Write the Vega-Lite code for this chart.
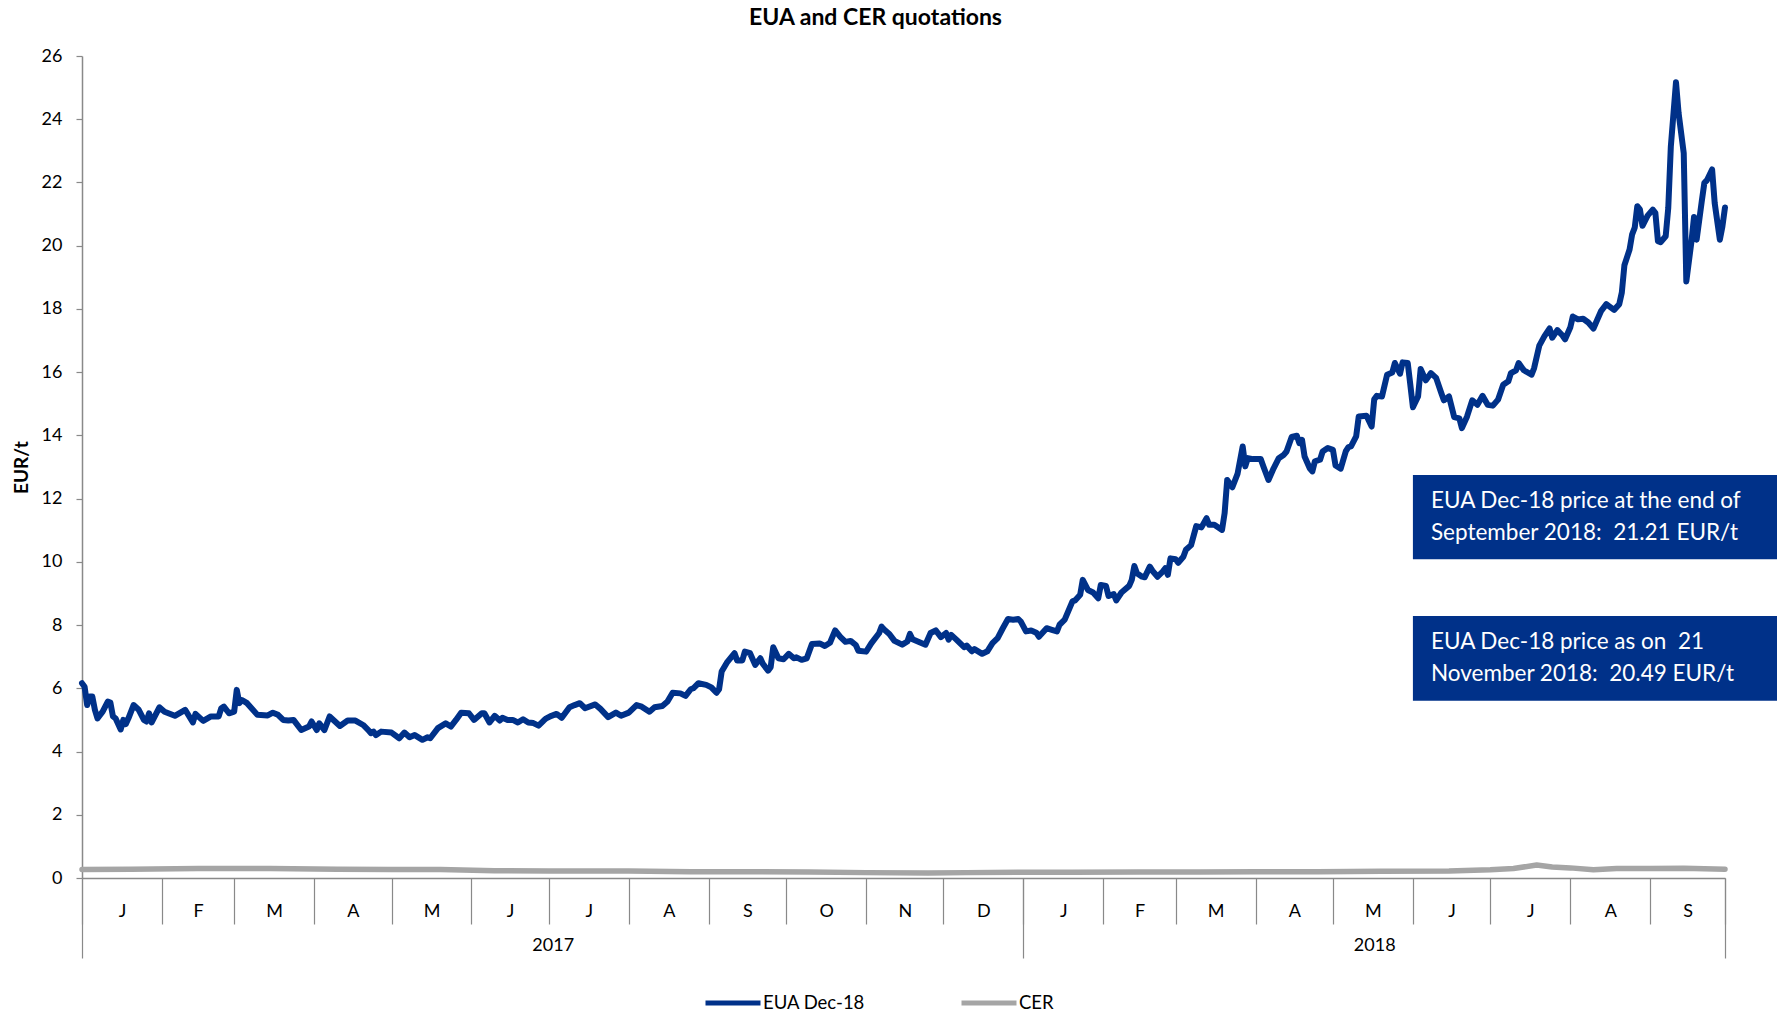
{
  "$schema": "https://vega.github.io/schema/vega-lite/v6.json",
  "autosize": {"type": "none"},
  "padding": {"left": 82, "top": 56, "right": 52, "bottom": 135},
  "width": 1643,
  "height": 822,
  "background": "white",
  "title": {"text": "EUA and CER quotations", "anchor": "middle", "frame": "group", "dx": -28, "offset": 17, "font": "Lato", "fontSize": 23, "fontWeight": "bold", "color": "#000000"},
  "config": {
    "view": {"stroke": null},
    "axis": {"labelFont": "Lato", "labelFontSize": 18, "labelColor": "#000000", "grid": false, "domainColor": "#898989", "tickColor": "#898989", "titleFont": "Lato", "titleColor": "#000000"},
    "legend": {"labelFont": "Lato", "labelFontSize": 18.5, "labelColor": "#000000"}
  },
  "datasets": {
    "eua": [
      {"date":"2017/01/01","v":6.16},{"date":"2017/01/02","v":6.05},{"date":"2017/01/03","v":5.47},{"date":"2017/01/04","v":5.74},{"date":"2017/01/05","v":5.74},{"date":"2017/01/06","v":5.32},{"date":"2017/01/07","v":5.05},{"date":"2017/01/09","v":5.26},{"date":"2017/01/11","v":5.58},{"date":"2017/01/12","v":5.55},{"date":"2017/01/13","v":5.11},{"date":"2017/01/14","v":5.05},{"date":"2017/01/16","v":4.70},{"date":"2017/01/17","v":5.00},{"date":"2017/01/18","v":4.87},{"date":"2017/01/19","v":5.05},{"date":"2017/01/21","v":5.47},{"date":"2017/01/23","v":5.32},{"date":"2017/01/25","v":5.00},{"date":"2017/01/26","v":4.95},{"date":"2017/01/27","v":5.21},{"date":"2017/01/28","v":4.92},{"date":"2017/01/31","v":5.40},
      {"date":"2017/02/02","v":5.26},{"date":"2017/02/06","v":5.13},{"date":"2017/02/10","v":5.32},{"date":"2017/02/13","v":4.92},{"date":"2017/02/14","v":5.19},{"date":"2017/02/17","v":4.97},{"date":"2017/02/20","v":5.11},{"date":"2017/02/23","v":5.11},{"date":"2017/02/24","v":5.37},{"date":"2017/02/25","v":5.42},{"date":"2017/02/27","v":5.21},
      {"date":"2017/03/01","v":5.26},{"date":"2017/03/02","v":5.95},{"date":"2017/03/03","v":5.53},{"date":"2017/03/04","v":5.63},{"date":"2017/03/06","v":5.53},{"date":"2017/03/10","v":5.16},{"date":"2017/03/14","v":5.14},{"date":"2017/03/16","v":5.23},{"date":"2017/03/18","v":5.16},{"date":"2017/03/20","v":5.00},{"date":"2017/03/22","v":4.98},{"date":"2017/03/24","v":5.00},{"date":"2017/03/27","v":4.68},{"date":"2017/03/30","v":4.79},{"date":"2017/03/31","v":4.95},
      {"date":"2017/04/02","v":4.68},{"date":"2017/04/03","v":4.89},{"date":"2017/04/05","v":4.68},{"date":"2017/04/07","v":5.11},{"date":"2017/04/11","v":4.81},{"date":"2017/04/14","v":4.98},{"date":"2017/04/17","v":4.98},{"date":"2017/04/20","v":4.84},{"date":"2017/04/22","v":4.68},{"date":"2017/04/23","v":4.58},{"date":"2017/04/24","v":4.63},{"date":"2017/04/25","v":4.52},{"date":"2017/04/27","v":4.63},
      {"date":"2017/05/01","v":4.60},{"date":"2017/05/04","v":4.42},{"date":"2017/05/06","v":4.60},{"date":"2017/05/08","v":4.45},{"date":"2017/05/10","v":4.52},{"date":"2017/05/13","v":4.37},{"date":"2017/05/15","v":4.45},{"date":"2017/05/16","v":4.42},{"date":"2017/05/19","v":4.74},{"date":"2017/05/22","v":4.89},{"date":"2017/05/24","v":4.79},{"date":"2017/05/26","v":5.00},{"date":"2017/05/28","v":5.23},{"date":"2017/05/31","v":5.21},
      {"date":"2017/06/02","v":5.00},{"date":"2017/06/05","v":5.21},{"date":"2017/06/06","v":5.21},{"date":"2017/06/08","v":4.92},{"date":"2017/06/10","v":5.13},{"date":"2017/06/12","v":4.98},{"date":"2017/06/13","v":5.07},{"date":"2017/06/15","v":5.00},{"date":"2017/06/17","v":5.00},{"date":"2017/06/19","v":4.92},{"date":"2017/06/21","v":5.02},{"date":"2017/06/23","v":4.92},{"date":"2017/06/25","v":4.90},{"date":"2017/06/27","v":4.82},{"date":"2017/06/29","v":4.98},{"date":"2017/06/30","v":5.05},
      {"date":"2017/07/02","v":5.13},{"date":"2017/07/04","v":5.19},{"date":"2017/07/06","v":5.07},{"date":"2017/07/09","v":5.40},{"date":"2017/07/11","v":5.47},{"date":"2017/07/13","v":5.53},{"date":"2017/07/15","v":5.37},{"date":"2017/07/19","v":5.49},{"date":"2017/07/21","v":5.35},{"date":"2017/07/24","v":5.09},{"date":"2017/07/27","v":5.23},{"date":"2017/07/29","v":5.13},
      {"date":"2017/08/01","v":5.23},{"date":"2017/08/04","v":5.47},{"date":"2017/08/06","v":5.42},{"date":"2017/08/09","v":5.26},{"date":"2017/08/11","v":5.40},{"date":"2017/08/14","v":5.44},{"date":"2017/08/16","v":5.58},{"date":"2017/08/18","v":5.86},{"date":"2017/08/21","v":5.84},{"date":"2017/08/23","v":5.76},{"date":"2017/08/25","v":5.97},{"date":"2017/08/26","v":6.00},{"date":"2017/08/28","v":6.16},{"date":"2017/08/31","v":6.11},
      {"date":"2017/09/02","v":6.03},{"date":"2017/09/04","v":5.86},{"date":"2017/09/05","v":5.97},{"date":"2017/09/06","v":6.53},{"date":"2017/09/08","v":6.81},{"date":"2017/09/11","v":7.11},{"date":"2017/09/12","v":6.88},{"date":"2017/09/14","v":6.88},{"date":"2017/09/15","v":7.16},{"date":"2017/09/17","v":7.11},{"date":"2017/09/19","v":6.74},{"date":"2017/09/21","v":6.95},{"date":"2017/09/22","v":6.77},{"date":"2017/09/24","v":6.56},{"date":"2017/09/25","v":6.67},{"date":"2017/09/26","v":7.30},{"date":"2017/09/28","v":6.95},{"date":"2017/09/30","v":6.92},
      {"date":"2017/10/02","v":7.09},{"date":"2017/10/04","v":6.95},{"date":"2017/10/05","v":6.98},{"date":"2017/10/07","v":6.90},{"date":"2017/10/09","v":6.95},{"date":"2017/10/11","v":7.40},{"date":"2017/10/14","v":7.42},{"date":"2017/10/16","v":7.34},{"date":"2017/10/18","v":7.44},{"date":"2017/10/20","v":7.83},{"date":"2017/10/22","v":7.63},{"date":"2017/10/24","v":7.47},{"date":"2017/10/26","v":7.50},{"date":"2017/10/28","v":7.37},{"date":"2017/10/29","v":7.19},
      {"date":"2017/11/01","v":7.16},{"date":"2017/11/03","v":7.42},{"date":"2017/11/06","v":7.74},{"date":"2017/11/07","v":7.95},{"date":"2017/11/08","v":7.86},{"date":"2017/11/10","v":7.72},{"date":"2017/11/12","v":7.50},{"date":"2017/11/15","v":7.38},{"date":"2017/11/17","v":7.48},{"date":"2017/11/18","v":7.72},{"date":"2017/11/19","v":7.55},{"date":"2017/11/24","v":7.38},{"date":"2017/11/26","v":7.75},{"date":"2017/11/28","v":7.83},{"date":"2017/11/30","v":7.62},
      {"date":"2017/12/02","v":7.75},{"date":"2017/12/03","v":7.54},{"date":"2017/12/04","v":7.69},{"date":"2017/12/06","v":7.54},{"date":"2017/12/09","v":7.30},{"date":"2017/12/10","v":7.35},{"date":"2017/12/12","v":7.17},{"date":"2017/12/13","v":7.24},{"date":"2017/12/16","v":7.09},{"date":"2017/12/18","v":7.17},{"date":"2017/12/20","v":7.43},{"date":"2017/12/22","v":7.59},{"date":"2017/12/24","v":7.90},{"date":"2017/12/26","v":8.19},{"date":"2017/12/28","v":8.17},{"date":"2017/12/30","v":8.19},{"date":"2017/12/31","v":8.11},
      {"date":"2018/01/02","v":7.80},{"date":"2018/01/04","v":7.83},{"date":"2018/01/06","v":7.76},{"date":"2018/01/07","v":7.63},{"date":"2018/01/10","v":7.90},{"date":"2018/01/12","v":7.85},{"date":"2018/01/14","v":7.80},{"date":"2018/01/15","v":8.01},{"date":"2018/01/17","v":8.17},{"date":"2018/01/20","v":8.75},{"date":"2018/01/21","v":8.78},{"date":"2018/01/23","v":8.96},{"date":"2018/01/24","v":9.43},{"date":"2018/01/26","v":9.11},{"date":"2018/01/28","v":9.03},{"date":"2018/01/30","v":8.85},{"date":"2018/01/31","v":9.27},
      {"date":"2018/02/02","v":9.24},{"date":"2018/02/03","v":8.92},{"date":"2018/02/05","v":8.98},{"date":"2018/02/06","v":8.78},{"date":"2018/02/08","v":9.03},{"date":"2018/02/11","v":9.24},{"date":"2018/02/12","v":9.43},{"date":"2018/02/13","v":9.87},{"date":"2018/02/14","v":9.64},{"date":"2018/02/16","v":9.53},{"date":"2018/02/17","v":9.51},{"date":"2018/02/19","v":9.85},{"date":"2018/02/20","v":9.72},{"date":"2018/02/22","v":9.53},{"date":"2018/02/24","v":9.69},{"date":"2018/02/25","v":9.80},{"date":"2018/02/26","v":9.59},{"date":"2018/02/27","v":10.11},
      {"date":"2018/03/01","v":10.08},{"date":"2018/03/02","v":9.97},{"date":"2018/03/04","v":10.16},{"date":"2018/03/05","v":10.38},{"date":"2018/03/07","v":10.53},{"date":"2018/03/09","v":11.13},{"date":"2018/03/11","v":11.09},{"date":"2018/03/13","v":11.38},{"date":"2018/03/14","v":11.17},{"date":"2018/03/16","v":11.17},{"date":"2018/03/19","v":11.01},{"date":"2018/03/20","v":11.54},{"date":"2018/03/21","v":12.59},{"date":"2018/03/23","v":12.36},{"date":"2018/03/25","v":12.78},{"date":"2018/03/27","v":13.65},{"date":"2018/03/28","v":13.02},{"date":"2018/03/29","v":13.28},{"date":"2018/03/31","v":13.25},
      {"date":"2018/04/03","v":13.25},{"date":"2018/04/04","v":13.02},{"date":"2018/04/06","v":12.59},{"date":"2018/04/08","v":12.96},{"date":"2018/04/10","v":13.28},{"date":"2018/04/12","v":13.39},{"date":"2018/04/13","v":13.49},{"date":"2018/04/15","v":13.95},{"date":"2018/04/17","v":13.99},{"date":"2018/04/18","v":13.75},{"date":"2018/04/19","v":13.86},{"date":"2018/04/20","v":13.33},{"date":"2018/04/22","v":12.96},{"date":"2018/04/23","v":12.86},{"date":"2018/04/24","v":13.18},{"date":"2018/04/26","v":13.23},{"date":"2018/04/27","v":13.49},{"date":"2018/04/29","v":13.60},
      {"date":"2018/05/01","v":13.54},{"date":"2018/05/02","v":13.05},{"date":"2018/05/04","v":12.95},{"date":"2018/05/06","v":13.50},{"date":"2018/05/07","v":13.63},{"date":"2018/05/08","v":13.65},{"date":"2018/05/10","v":13.97},{"date":"2018/05/11","v":14.60},{"date":"2018/05/14","v":14.62},{"date":"2018/05/16","v":14.28},{"date":"2018/05/17","v":15.14},{"date":"2018/05/18","v":15.25},{"date":"2018/05/20","v":15.23},{"date":"2018/05/22","v":15.92},{"date":"2018/05/24","v":15.99},{"date":"2018/05/25","v":16.29},{"date":"2018/05/27","v":15.95},{"date":"2018/05/28","v":16.31},{"date":"2018/05/30","v":16.29},{"date":"2018/05/31","v":15.60},
      {"date":"2018/06/01","v":14.89},{"date":"2018/06/03","v":15.23},{"date":"2018/06/04","v":16.10},{"date":"2018/06/06","v":15.74},{"date":"2018/06/08","v":15.97},{"date":"2018/06/10","v":15.82},{"date":"2018/06/12","v":15.34},{"date":"2018/06/13","v":15.11},{"date":"2018/06/15","v":15.23},{"date":"2018/06/17","v":14.58},{"date":"2018/06/19","v":14.54},{"date":"2018/06/20","v":14.23},{"date":"2018/06/22","v":14.60},{"date":"2018/06/24","v":15.11},{"date":"2018/06/26","v":14.97},{"date":"2018/06/28","v":15.25},{"date":"2018/06/30","v":14.97},
      {"date":"2018/07/02","v":14.94},{"date":"2018/07/04","v":15.13},{"date":"2018/07/06","v":15.60},{"date":"2018/07/08","v":15.71},{"date":"2018/07/09","v":15.97},{"date":"2018/07/11","v":16.06},{"date":"2018/07/12","v":16.29},{"date":"2018/07/14","v":16.06},{"date":"2018/07/17","v":15.92},{"date":"2018/07/18","v":16.13},{"date":"2018/07/20","v":16.84},{"date":"2018/07/22","v":17.14},{"date":"2018/07/24","v":17.38},{"date":"2018/07/25","v":17.09},{"date":"2018/07/27","v":17.33},{"date":"2018/07/29","v":17.16},{"date":"2018/07/30","v":17.04},
      {"date":"2018/08/01","v":17.41},{"date":"2018/08/02","v":17.76},{"date":"2018/08/04","v":17.67},{"date":"2018/08/06","v":17.69},{"date":"2018/08/08","v":17.57},{"date":"2018/08/10","v":17.38},{"date":"2018/08/11","v":17.57},{"date":"2018/08/13","v":17.94},{"date":"2018/08/15","v":18.15},{"date":"2018/08/16","v":18.09},{"date":"2018/08/18","v":17.97},{"date":"2018/08/20","v":18.15},{"date":"2018/08/21","v":18.52},{"date":"2018/08/22","v":19.38},{"date":"2018/08/24","v":19.88},{"date":"2018/08/25","v":20.36},{"date":"2018/08/26","v":20.57},{"date":"2018/08/27","v":21.25},{"date":"2018/08/28","v":21.15},{"date":"2018/08/29","v":20.63},{"date":"2018/08/31","v":20.95},
      {"date":"2018/09/02","v":21.14},{"date":"2018/09/03","v":21.04},{"date":"2018/09/04","v":20.14},{"date":"2018/09/05","v":20.11},{"date":"2018/09/07","v":20.30},{"date":"2018/09/08","v":21.19},{"date":"2018/09/09","v":23.14},{"date":"2018/09/11","v":25.17},{"date":"2018/09/12","v":24.20},{"date":"2018/09/14","v":22.93},{"date":"2018/09/15","v":18.87},{"date":"2018/09/17","v":20.14},{"date":"2018/09/18","v":20.91},{"date":"2018/09/19","v":20.19},{"date":"2018/09/21","v":21.41},{"date":"2018/09/22","v":21.99},{"date":"2018/09/23","v":22.07},{"date":"2018/09/25","v":22.41},{"date":"2018/09/26","v":21.35},{"date":"2018/09/28","v":20.19},{"date":"2018/09/29","v":20.61},{"date":"2018/09/30","v":21.21}
    ],
    "cer": [
      {"date":"2017/01/01","v":0.27},{"date":"2017/01/20","v":0.28},{"date":"2017/02/15","v":0.30},{"date":"2017/03/15","v":0.30},{"date":"2017/04/10","v":0.28},{"date":"2017/05/01","v":0.27},{"date":"2017/05/20","v":0.27},{"date":"2017/06/10","v":0.23},{"date":"2017/07/01","v":0.22},{"date":"2017/08/01","v":0.22},{"date":"2017/08/25","v":0.20},{"date":"2017/09/15","v":0.20},{"date":"2017/10/10","v":0.19},{"date":"2017/11/01","v":0.17},{"date":"2017/11/25","v":0.16},{"date":"2017/12/10","v":0.17},{"date":"2017/12/31","v":0.18},
      {"date":"2018/01/20","v":0.18},{"date":"2018/02/15","v":0.19},{"date":"2018/03/10","v":0.19},{"date":"2018/04/01","v":0.20},{"date":"2018/04/25","v":0.20},{"date":"2018/05/20","v":0.21},{"date":"2018/06/15","v":0.22},{"date":"2018/07/01","v":0.26},{"date":"2018/07/10","v":0.30},{"date":"2018/07/19","v":0.41},{"date":"2018/07/25","v":0.35},{"date":"2018/08/01","v":0.32},{"date":"2018/08/10","v":0.26},{"date":"2018/08/19","v":0.30},{"date":"2018/09/01","v":0.30},{"date":"2018/09/14","v":0.31},{"date":"2018/09/30","v":0.28}
    ],
    "boxes": [
      {"x":"2018/06/01","x2":"2018/10/25","v":12.75,"v2":10.08},
      {"x":"2018/06/01","x2":"2018/10/25","v":8.29,"v2":5.61}
    ],
    "notes": [
      {"date":"2018/06/08","v":11.93,"label":"EUA Dec-18 price at the end of\nSeptember 2018: \u00a021.21 EUR/t"},
      {"date":"2018/06/08","v":7.45,"label":"EUA Dec-18 price as on \u00a021\nNovember 2018: \u00a020.49 EUR/t"}
    ]
  },
  "resolve": {"axis": {"x": "independent"}},
  "layer": [
    {
      "data": {"name": "cer"},
      "mark": {"type": "line", "strokeWidth": 5.5, "strokeJoin": "round", "strokeCap": "round"},
      "encoding": {
        "x": {"field": "date", "type": "temporal",
              "scale": {"domain": [{"year":2017,"month":1,"date":1},{"year":2018,"month":9,"date":30}], "nice": false},
              "axis": {"orient": "bottom", "title": null, "values": [{"year":2017,"month":1,"date":1},{"year":2018,"month":1,"date":1},{"year":2018,"month":9,"date":30}], "tickSize": 80, "tickWidth": 1.2, "labels": false, "domain": false}},
        "y": {"field": "v", "type": "quantitative", "title": "EUR/t", "scale": {"domain": [0, 26], "nice": false},
              "axis": {"values": [0,2,4,6,8,10,12,14,16,18,20,22,24,26], "tickSize": 6, "tickWidth": 1.2, "domainWidth": 1.5, "labelPadding": 14, "titlePadding": 10, "titleFontSize": 19, "titleFontWeight": "bold"}},
        "color": {"datum": "CER", "type": "nominal",
                  "scale": {"domain": ["EUA Dec-18", "CER"], "range": ["#003189", "#A5A5A5"]},
                  "legend": {"title": null, "orient": "none", "legendX": 621, "legendY": 917, "direction": "horizontal", "symbolType": "stroke", "symbolSize": 3025, "symbolStrokeWidth": 5, "labelOffset": 0, "columnPadding": 86}}
      }
    },
    {
      "data": {"name": "eua"},
      "mark": {"type": "line", "strokeWidth": 6, "strokeJoin": "round", "strokeCap": "round"},
      "encoding": {
        "x": {"field": "date", "type": "temporal",
              "scale": {"domain": [{"year":2017,"month":1,"date":1},{"year":2018,"month":9,"date":30}], "nice": false},
              "axis": {"orient": "bottom", "title": null, "values": [{"year":2017,"month":1,"date":1},{"year":2017,"month":2,"date":1},{"year":2017,"month":3,"date":1},{"year":2017,"month":4,"date":1},{"year":2017,"month":5,"date":1},{"year":2017,"month":6,"date":1},{"year":2017,"month":7,"date":1},{"year":2017,"month":8,"date":1},{"year":2017,"month":9,"date":1},{"year":2017,"month":10,"date":1},{"year":2017,"month":11,"date":1},{"year":2017,"month":12,"date":1},{"year":2018,"month":1,"date":1},{"year":2018,"month":2,"date":1},{"year":2018,"month":3,"date":1},{"year":2018,"month":4,"date":1},{"year":2018,"month":5,"date":1},{"year":2018,"month":6,"date":1},{"year":2018,"month":7,"date":1},{"year":2018,"month":8,"date":1},{"year":2018,"month":9,"date":1},{"year":2018,"month":9,"date":30}], "tickSize": 46, "tickWidth": 1.2, "labels": false, "domain": true, "domainWidth": 1.5}},
        "y": {"field": "v", "type": "quantitative", "title": "EUR/t", "scale": {"domain": [0, 26], "nice": false}},
        "color": {"datum": "EUA Dec-18", "type": "nominal"}
      }
    },
    {
      "data": {"name": "boxes"},
      "mark": {"type": "rect", "color": "#003189", "clip": false},
      "encoding": {
        "x": {"field": "x", "type": "temporal",
              "scale": {"domain": [{"year":2017,"month":1,"date":1},{"year":2018,"month":9,"date":30}], "nice": false},
              "axis": {"orient": "bottom", "title": null, "values": [{"year":2017,"month":7,"date":2,"hours":12},{"year":2018,"month":5,"date":17}], "ticks": false, "tickSize": 0, "domain": false, "labelPadding": 58, "labelExpr": "timeFormat(datum.value, '%Y')", "labelOverlap": false, "labelFlush": false, "labelBound": false}},
        "x2": {"field": "x2"},
        "y": {"field": "v", "type": "quantitative", "title": "EUR/t", "scale": {"domain": [0, 26], "nice": false}},
        "y2": {"field": "v2"}
      }
    },
    {
      "data": {"name": "notes"},
      "mark": {"type": "text", "align": "left", "baseline": "middle", "lineBreak": "\n", "lineHeight": 32, "font": "Lato", "fontSize": 22.5, "color": "#FFFFFF"},
      "encoding": {
        "x": {"field": "date", "type": "temporal",
              "scale": {"domain": [{"year":2017,"month":1,"date":1},{"year":2018,"month":9,"date":30}], "nice": false},
              "axis": {"orient": "bottom", "title": null, "values": [{"year":2017,"month":1,"date":16,"hours":12},{"year":2017,"month":2,"date":15},{"year":2017,"month":3,"date":16,"hours":12},{"year":2017,"month":4,"date":16},{"year":2017,"month":5,"date":16,"hours":12},{"year":2017,"month":6,"date":16},{"year":2017,"month":7,"date":16,"hours":12},{"year":2017,"month":8,"date":16,"hours":12},{"year":2017,"month":9,"date":16},{"year":2017,"month":10,"date":16,"hours":12},{"year":2017,"month":11,"date":16},{"year":2017,"month":12,"date":16,"hours":12},{"year":2018,"month":1,"date":16,"hours":12},{"year":2018,"month":2,"date":15},{"year":2018,"month":3,"date":16,"hours":12},{"year":2018,"month":4,"date":16},{"year":2018,"month":5,"date":16,"hours":12},{"year":2018,"month":6,"date":16},{"year":2018,"month":7,"date":16,"hours":12},{"year":2018,"month":8,"date":16,"hours":12},{"year":2018,"month":9,"date":15,"hours":12}], "ticks": false, "tickSize": 0, "domain": false, "labelPadding": 24, "labelExpr": "substring(timeFormat(datum.value, '%b'), 0, 1)", "labelOverlap": false, "labelFlush": false, "labelBound": false}},
        "y": {"field": "v", "type": "quantitative", "title": "EUR/t", "scale": {"domain": [0, 26], "nice": false}},
        "text": {"field": "label", "type": "nominal"}
      }
    }
  ]
}
